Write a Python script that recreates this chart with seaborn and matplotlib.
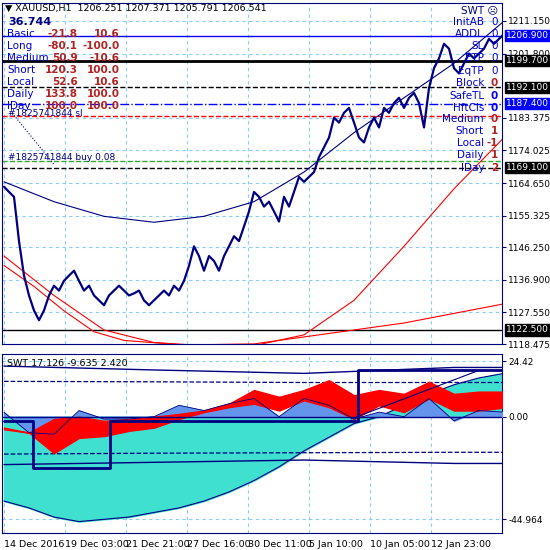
import numpy as np
import matplotlib
matplotlib.use("Agg")
import matplotlib.pyplot as plt
import seaborn as sns

sns.set_style("white")
plt.rcParams['font.family'] = ['DejaVu Sans']

# ---- data ----
close = [1163.6,1162.1,1160.7,1148.0,1138.1,1132.4,1128.1,1125.3,1128.1,1132.4,1135.2,1133.8,1136.6,1138.1,1139.5,
         1136.6,1133.8,1135.2,1132.4,1131.0,1129.6,1132.4,1133.8,1135.2,1133.8,1132.4,1133.0,1133.8,1131.0,1129.6,
         1131.0,1132.4,1133.8,1132.4,1135.2,1133.8,1136.6,1140.9,1146.5,1143.7,1139.5,1143.7,1142.3,1139.5,1143.7,
         1146.5,1149.4,1148.0,1152.2,1156.5,1162.1,1160.7,1157.9,1159.3,1156.5,1153.6,1160.7,1157.9,1162.1,1166.4,
         1165.0,1166.4,1167.8,1172.1,1174.9,1177.7,1183.4,1182.0,1184.8,1186.2,1182.0,1177.7,1176.3,1180.6,1183.4,
         1180.6,1186.2,1184.8,1187.6,1189.1,1186.2,1189.1,1190.5,1187.6,1180.6,1191.9,1197.6,1200.4,1204.6,1203.2,
         1197.6,1196.1,1199.0,1201.8,1200.4,1201.8,1203.2,1206.0,1204.6,1206.0,1207.4]
ma_x = [0,50,100,150,200,250,300,350,400,450,500]
ma_blue = [1165.0,1159.3,1155.1,1153.4,1155.1,1159.3,1167.8,1179.1,1189.1,1199.0,1211.1]
ma_red = [1143.7,1132.4,1122.5,1118.9,1118.0,1118.0,1121.1,1131.0,1146.5,1163.0,1177.7]
ma_red2_x = [0,30,60,90,120,180,250,300,400,500]
ma_red2 = [1141.0,1135.0,1128.0,1122.0,1119.5,1118.2,1118.5,1120.5,1124.5,1130.0]

ind_x = list(range(0, 501, 25))
turq = [-37,-40,-44,-46,-45,-44,-42,-40,-37,-33,-28,-22,-15,-9,-3,0,5,10,14,17,19]
red_top = [-4.8,-7,-1,0,-1.8,-1,0,1.2,2.7,5.7,11.7,8.7,11.7,16,9.4,11.7,10,15.3,10,11,11]
red_bot = [-5.5,-7,-16,-9.3,-8.5,-6.2,-4.8,-1,2,4.2,5.7,2.7,7.2,4.2,-1,5,2,8,2.7,2.7,4]
blue_ar = [1.9,-7,-7.7,2.7,-1,-1,0,5,2.7,5.7,8,0,8,5,-1,2,0,8,-1.8,2.7,2]
band_x = [0,150,300,450,500]
band_up = [22.2,20.5,19,21.6,21.6]
band_lo = [-21,-20,-19,-20.5,-20.5]
dash_up = [15.5,15.3,15.0,15.0,15.0]
dash_lo = [-16.4,-16,-15.8,-15.6,-15.6]
step_x = [0,29,29,106,106,354,354,500]
step_y = [-1.8,-1.8,-22.5,-22.5,-1.8,-1.8,20.6,20.6]

xticks = [0,61,122,183,244,305,366,427]
xlabels = ["14 Dec 2016","19 Dec 03:00","21 Dec 21:00","27 Dec 16:00","30 Dec 11:00","5 Jan 10:00","10 Jan 05:00","12 Jan 23:00"]
price_ticks = [1211.150,1201.800,1183.375,1174.025,1164.650,1155.325,1146.250,1136.900,1127.550,1118.475]
hlines = [(1206.9,'#0000ff','-',1.0),(1199.7,'black','-',2.0),(1192.1,'black','--',1.0),
          (1187.4,'#0000ff','-.',1.0),(1183.9,'red','--',1.0),(1170.9,'#33aa33','--',1.0),
          (1169.1,'black','--',1.0),(1122.5,'black','-',1.0)]
boxed = [(1206.9,'#0000ff'),(1199.7,'black'),(1192.1,'black'),(1187.4,'#0000ff'),(1169.1,'black'),(1122.5,'black')]

W = 550
fig = plt.figure(figsize=(5.5,5.5), dpi=100)
navy = '#000080'
grid_c = '#87cefa'
ax = fig.add_axes([2/W, 1-344/W, 500/W, 341/W])
ax2 = fig.add_axes([2/W, 1-533/W, 500/W, 179/W])

xc = np.arange(len(close))*5
for a in (ax, ax2):
    for s in a.spines.values():
        s.set_color(navy)
    a.set_xlim(-2, 498)
    a.set_xticks(xticks)
    a.grid(True, color=grid_c, ls=(0,(3,3)), lw=0.8)
    a.yaxis.tick_right()
    a.tick_params(length=3, colors=navy, labelcolor='black', labelsize=6.5, pad=1.5)

ax.set_ylim(1120.7, 1216.3)
ax.set_yticks(price_ticks)
ax.set_yticklabels([f"{v:.3f}" for v in price_ticks])
ax.set_xticklabels([])
for y, c, ls, lw in hlines:
    ax.axhline(y, color=c, ls=ls, lw=lw, zorder=2)
sns.lineplot(x=ma_x, y=ma_blue, ax=ax, color=navy, lw=0.8)
sns.lineplot(x=ma_x, y=ma_red, ax=ax, color='red', lw=0.8)
sns.lineplot(x=ma_red2_x, y=ma_red2, ax=ax, color='red', lw=0.8)
sns.lineplot(x=xc, y=close, ax=ax, color=navy, lw=1.6, zorder=5)
ax.plot([8, 50], [1184.8, 1170], color=navy, lw=0.8, ls=':')
for y, c in boxed:
    ax.text(1.008, y, f"{y:.3f}", transform=ax.get_yaxis_transform(), va='center', ha='left',
            fontsize=6.5, color='white', bbox=dict(boxstyle='square,pad=0.12', fc=c, ec=c), zorder=10, clip_on=False)

# indicator
ax2.set_ylim(-51, 27.5)
ax2.set_yticks([24.42, 0.0, -44.964])
ax2.set_yticklabels(["24.42", "0.00", "-44.964"])
ax2.set_xticklabels(xlabels, fontsize=6.8, ha='left')
ax2.tick_params(axis='x', pad=2)
ax2.fill_between(ind_x, 0, turq, color='#40e0d0', zorder=2)
ax2.plot(ind_x, turq, color=navy, lw=0.8, zorder=3)
ax2.fill_between(ind_x, 0, blue_ar, color='#6495ed', zorder=3)
ax2.fill_between(ind_x, red_bot, red_top, color='red', zorder=4)
ax2.plot(ind_x, blue_ar, color=navy, lw=0.6, zorder=5)
ax2.axhline(0, color=navy, lw=1, zorder=5)
sns.lineplot(x=band_x, y=band_up, ax=ax2, color=navy, lw=1)
sns.lineplot(x=band_x, y=band_lo, ax=ax2, color=navy, lw=1)
ax2.plot(band_x, dash_up, color=navy, lw=0.9, ls='--')
ax2.plot(band_x, dash_lo, color=navy, lw=0.9, ls='--')
ax2.plot(step_x, step_y, color=navy, lw=2, zorder=6)
ax2.plot([347, 473], [-1, 20], color=navy, lw=0.8, zorder=6)
ax2.text(0.01, 0.97, "SWT 17.126 -9.635 2.420", transform=ax2.transAxes, fontsize=6.8, va='top', color='black')

def t(x, y, s, **kw):
    fig.text(x/W, 1-y/W, s, va='center', **kw)

t(5, 8, "▼ XAUUSD,H1  1206.251 1207.371 1205.791 1206.541", fontsize=6.8, color='black')
t(8, 22, "36.744", fontsize=8, fontweight='bold', color=navy)
rows = [("Basic","-21.8","10.6"),("Long","-80.1","-100.0"),("Medium","50.9","-10.6"),("Short","120.3","100.0"),
        ("Local","52.6","10.6"),("Daily","133.8","100.0"),("IDay","100.0","100.0")]
for i, (n, a, b) in enumerate(rows):
    y = 34 + i*12
    t(7, y, n, fontsize=7.5, color='#0000cc')
    t(78, y, a, fontsize=7.5, color='#b22222', fontweight='bold', ha='right')
    t(120, y, b, fontsize=7.5, color='#b22222', fontweight='bold', ha='right')
t(8, 113, "#1825741844 sl", fontsize=6.5, color=navy)
t(8, 157, "#1825741844 buy 0.08", fontsize=6.5, color=navy)

rr = [("SWT ☹",10,"", 'black'),("InitAB",22,"0",'#0000cc'),("ADDL",34,"0",'#0000cc'),("SL",46,"0",'#0000cc'),
      ("ETP",58,"0",'#0000cc'),("EqTP",71,"0",'#0000cc'),("Block",83,"0",'#b22222'),("SafeTL",96,"0",'#0000ff'),
      ("HftCls",108,"0",'#0000ff'),("Medium",119,"0",'#b22222'),("Short",131,"1",'#b22222'),
      ("Local",143,"-1",'#b22222'),("Daily",155,"1",'#b22222'),("IDay",168,"2",'#b22222')]
for n, y, v, c in rr:
    t(484 if v else 498, y, n, fontsize=7.5, color='#0000cc' if v else navy, ha='right')
    if v:
        t(498, y, v, fontsize=7.5, color=c, ha='right', fontweight='bold' if c != '#0000cc' else 'normal')

fig.savefig("out.png", dpi=100, facecolor='white')
